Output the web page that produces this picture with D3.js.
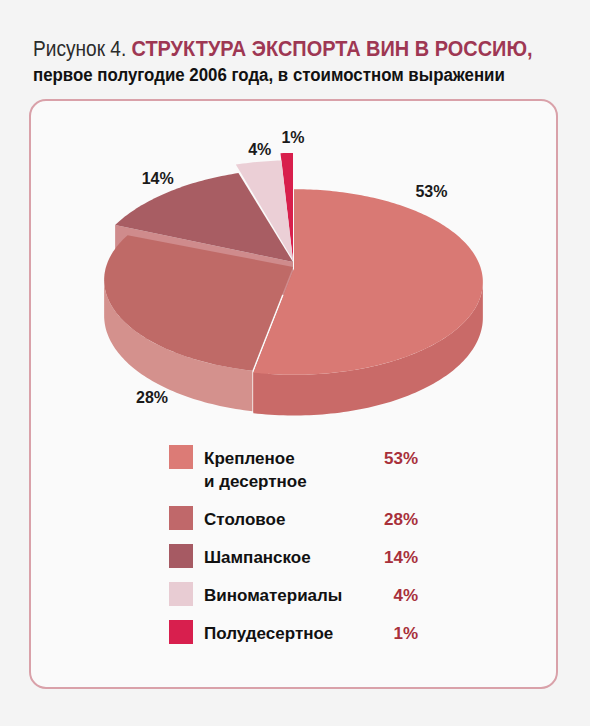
<!DOCTYPE html>
<html>
<head>
<meta charset="utf-8">
<script src="https://cdn.jsdelivr.net/npm/d3@7"></script>
<style>
  html, body { margin: 0; padding: 0; background: #f4f4f4; }
  svg { display: block; }
  text { font-family: "Liberation Sans", Arial, "Helvetica", sans-serif; }
</style>
</head>
<body>
<svg id="chart" width="590" height="726"></svg>
<script>
// данные диаграммы
const categories = ["Крепленое\nи десертное", "Столовое", "Шампанское", "Виноматериалы", "Полудесертное"];
const shares = [53, 28, 14, 4, 1];
const topColors = ["#d97974", "#bf6a67", "#a85d63", "#ebcfd6", "#d81f4c"];
const sideColors = ["#c96a68", "#d4918d", "#cf8b8c", "#dcbcc3", "#b81a40"];
const legendColors = ["#dc7b76", "#c0686a", "#a65a63", "#e8ccd3", "#d81f4e"];

const titleLead = "Рисунок 4.";
const titleMain = "СТРУКТУРА ЭКСПОРТА ВИН В РОССИЮ,";
const subtitle = "первое полугодие 2006 года, в стоимостном выражении";

const svg = d3.select("#chart");

// рамка
svg.append("rect")
  .attr("x", 30).attr("y", 100)
  .attr("width", 527).attr("height", 588)
  .attr("rx", 16).attr("ry", 16)
  .attr("fill", "#fafafa")
  .attr("stroke", "#d9a1a9")
  .attr("stroke-width", 2);

// заголовок: сжимаем по горизонтали под ширину оригинала
const titleG = svg.append("g");
const lead = titleG.append("text")
  .attr("x", 0).attr("y", 0)
  .attr("font-size", 22)
  .attr("fill", "#2b2b2b")
  .text(titleLead);
const w1 = lead.node().getComputedTextLength();
const main = titleG.append("text")
  .attr("x", w1 + 6).attr("y", 0)
  .attr("font-size", 23)
  .attr("font-weight", "bold")
  .attr("fill", "#9e3753")
  .text(titleMain);
const w2 = main.node().getComputedTextLength();
titleG.attr("transform", `translate(33,56) scale(${500 / (w1 + 6 + w2)},1)`);

const subG = svg.append("g");
const sub = subG.append("text")
  .attr("x", 0).attr("y", 0)
  .attr("font-size", 18)
  .attr("font-weight", "bold")
  .attr("fill", "#111")
  .text(subtitle);
subG.attr("transform", `translate(33,81) scale(${472 / sub.node().getComputedTextLength()},1)`);

// --- 3D пирог ---
const cx = 293, cy = 267;      // центр верхней поверхности
const R = 187, K = 91;         // полуоси
const persp = 0.14;            // перспектива
const depth = 35;              // толщина

// смещение секторов: радиус, сдвиг, подъем
const sliceLayout = [
  { r: 1.0,  dx: 1, dy: 2, lift: 0, rise: 0 },
  { r: 1.0,  dx: 0, dy: 0, lift: 0, rise: 0 },
  { r: 1.08, dx: 0, dy: 0, lift: 5, rise: 7 },
  { r: 1.14, dx: 0, dy: 0, lift: 7, rise: 9 },
  { r: 1.25, dx: 0, dy: 0, lift: 6, rise: 9 }
];

// положение подписей: угол (град), радиус, вертикальный сдвиг
const labelLayout = [
  { a: 42, r: 1.25, h: -1 },
  { a: 216, r: 1.12, h: 31 },
  { a: 320, r: 1.28, h: -12 },
  { a: 352, r: 1.55, h: -4 },
  { a: 0, r: 1.8, h: 1 }
];

function proj(theta, rho, h, sl) {
  const u = rho * Math.sin(theta);
  const v = -rho * Math.cos(theta);
  const s = 1 / (1 - persp * v);
  const x = cx + sl.dx + R * u * s;
  const y = cy + sl.dy + K * v * s - sl.lift - sl.rise * Math.max(0, -v) + h * s;
  return [x, y];
}

const pie = d3.pie().sort(null).value(d => d);
const arcs = pie(shares).map((d, i) => ({ ...d, i }));

const line = d3.line();
const pieG = svg.append("g").attr("class", "pie3d");

function arcPoints(a0, a1, rho, h, sl) {
  const n = Math.max(2, Math.ceil((a1 - a0) / 0.02));
  return d3.range(n + 1).map(k => proj(a0 + (a1 - a0) * k / n, rho, h, sl));
}

function cutFace(a, sl) {
  return line([
    proj(a, 0, 0, sl), proj(a, sl.r, 0, sl),
    proj(a, sl.r, depth, sl), proj(a, 0, depth, sl)
  ]) + "Z";
}

const silL = Math.acos(-persp), silR = 2 * Math.PI - Math.acos(-persp);

// порядок отрисовки: сзади вперёд
const drawOrder = [4, 3, 2, 1, 0];
drawOrder.forEach(i => {
  const d = arcs[i];
  const sl = sliceLayout[i];
  const a0 = d.startAngle, a1 = d.endAngle;

  // грань среза у шампанского (поднят) и у крупного сектора (сдвинут)
  if (i === 2) {
    pieG.append("path").attr("d", cutFace(a0, sl)).attr("fill", sideColors[i]);
  }
  if (i === 0) {
    pieG.append("path").attr("d", cutFace(a1, sl)).attr("fill", sideColors[i]);
  }

  // внешняя боковая поверхность
  const s0 = Math.max(a0, silL), s1 = Math.min(a1, silR);
  if (s1 > s0) {
    const topPts = arcPoints(s0, s1, sl.r, 0, sl);
    const botPts = arcPoints(s0, s1, sl.r, depth, sl).reverse();
    pieG.append("path")
      .attr("d", line(topPts.concat(botPts)) + "Z")
      .attr("fill", sideColors[i]);
  }

  // верхняя поверхность
  const pts = [proj(a0, 0, 0, sl)].concat(arcPoints(a0, a1, sl.r, 0, sl));
  pieG.append("path")
    .attr("d", line(pts) + "Z")
    .attr("fill", topColors[i]);
});

// подписи процентов на диаграмме
const fmt = d => d + "%";
pieG.selectAll("text.pct")
  .data(arcs)
  .join("text")
  .attr("class", "pct")
  .attr("text-anchor", "middle")
  .attr("font-size", 16)
  .attr("font-weight", "bold")
  .attr("fill", "#1a1a1a")
  .each(function(d) {
    const L = labelLayout[d.i];
    const p = proj(L.a * Math.PI / 180, L.r, L.h, { dx: 0, dy: 0, lift: 0, rise: 0 });
    d3.select(this).attr("x", p[0]).attr("y", p[1] + 6);
  })
  .text(d => fmt(d.data));

// --- легенда ---
const legendX = 169, labelX = 204, valueX = 418;
const rowStep = 38, lineStep = 23;
let rowY = 445;
const legend = svg.append("g").attr("class", "legend");

categories.forEach((name, i) => {
  const lines = name.split("\n");
  const g = legend.append("g").attr("transform", `translate(0,${rowY})`);
  g.append("rect")
    .attr("x", legendX).attr("y", 0)
    .attr("width", 24).attr("height", 24)
    .attr("fill", legendColors[i]);
  const t = g.append("text")
    .attr("font-size", 17)
    .attr("font-weight", "bold")
    .attr("fill", "#111");
  lines.forEach((ln, k) => {
    t.append("tspan")
      .attr("x", labelX)
      .attr("y", 19 + k * lineStep)
      .text(ln);
  });
  g.append("text")
    .attr("x", valueX).attr("y", 19)
    .attr("text-anchor", "end")
    .attr("font-size", 17)
    .attr("font-weight", "bold")
    .attr("fill", "#a8303a")
    .text(fmt(shares[i]));
  rowY += rowStep + (lines.length - 1) * lineStep;
});
</script>
</body>
</html>
